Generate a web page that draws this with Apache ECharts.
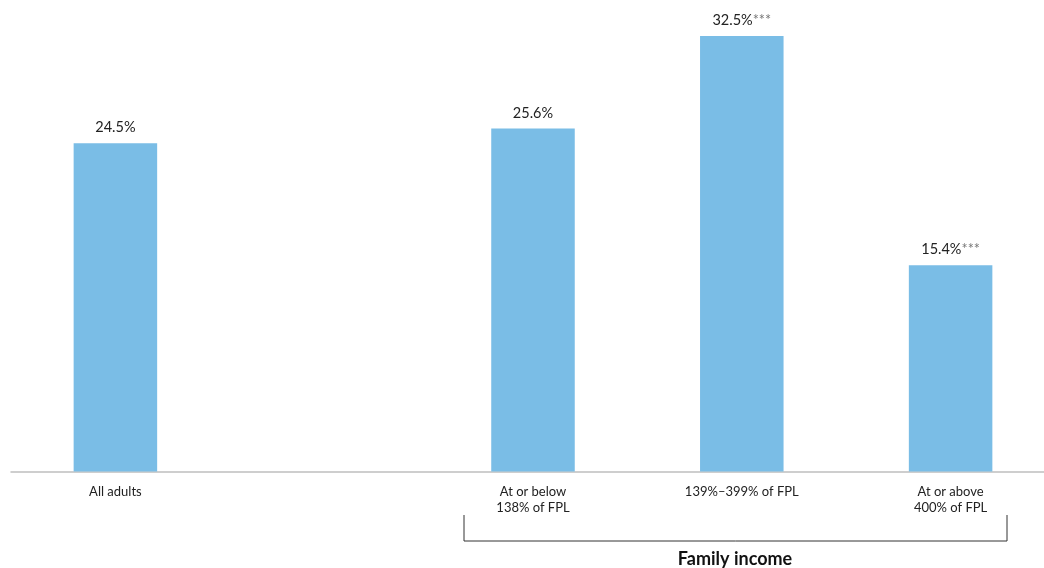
<!DOCTYPE html>
<html>
<head>
<meta charset="utf-8">
<script src="https://cdn.jsdelivr.net/npm/echarts@6/dist/echarts.min.js"></script>
<style>
  html, body { margin: 0; padding: 0; background: #fff; }
  #chart { width: 1044px; height: 568px; }
</style>
</head>
<body>
<div id="chart"></div>
<script>
// categories (empty slot between "All adults" and the income groups)
const categories = ['All adults', '', 'At or below\n138% of FPL', '139%–399% of FPL', 'At or above\n400% of FPL'];
const values = [24.5, null, 25.6, 32.5, 15.4];
const stars = ['', '', '', '***', '***'];
const groupLabel = 'Family income';

const myChart = echarts.init(document.getElementById('chart'));

const option = {
    animation: false,
    textStyle: { fontFamily: 'Lato, sans-serif' },
    grid: { left: 11, top: 2.5, width: 1044, height: 469, containLabel: false, outerBoundsMode: 'none' },
    xAxis: {
        type: 'category',
        data: categories,
        axisLine: { lineStyle: { color: '#bfbfbf', width: 1.5 } },
        axisTick: { show: false },
        axisLabel: { color: '#222', fontSize: 13, lineHeight: 16, margin: 12, interval: 0 }
    },
    yAxis: {
        type: 'value',
        min: 0,
        max: 35,
        show: false,
        splitLine: { show: false }
    },
    series: [{
        type: 'bar',
        barWidth: '40%',
        data: values.map(v => (v == null ? '-' : v)),
        itemStyle: { color: '#7abde6' },
        label: {
            show: true,
            position: 'top',
            distance: 8,
            color: '#222',
            fontSize: 14.5,
            formatter: p => p.value.toFixed(1) + '%' + (stars[p.dataIndex] ? '{s|' + stars[p.dataIndex] + '}' : ''),
            rich: {
                s: { color: '#777', fontSize: 14.5 }
            }
        }
    }],
    graphic: [
        {
            type: 'polyline',
            shape: { points: [[464, 515], [464, 541], [1007, 541], [1007, 515]] },
            style: { stroke: '#333', lineWidth: 1, fill: null }
        },
        {
            type: 'text',
            x: 735,
            y: 559,
            style: {
                text: groupLabel, fontSize: 18, fontWeight: 'bold', fill: '#111',
                fontFamily: 'Lato, sans-serif', align: 'center', verticalAlign: 'middle'
            }
        }
    ]
};

myChart.setOption(option);
</script>
</body>
</html>
